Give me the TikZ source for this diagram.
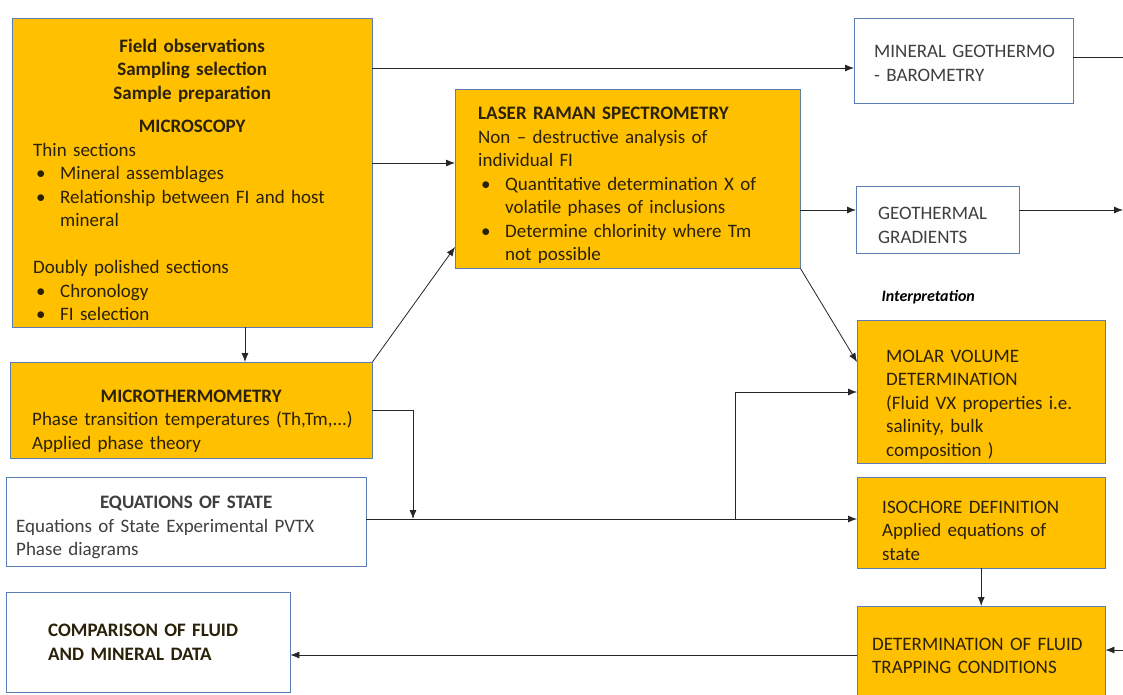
\documentclass[tikz,border=0pt]{standalone}
\usepackage{fontspec}
\setmainfont{Carlito}
\usetikzlibrary{arrows.meta}
\definecolor{boxgold}{HTML}{FFC000}
\definecolor{boxline}{HTML}{5A7DB5}
\definecolor{goldtext}{HTML}{2A2108}
\definecolor{greytext}{HTML}{3F3F3F}
\newcommand{\bitem}[1]{\par\hangindent=27pt\hangafter=1\noindent\makebox[27pt][l]{\hspace{3pt}\textbullet}#1\par}

\begin{document}
\begin{tikzpicture}[x=1pt,y=-1pt]
    \tikzstyle{txtsize}=[font=\fontsize{19}{23.5}\selectfont]
    \tikzstyle{topstrut}=[execute at begin node={\rule{0pt}{#1}}]
    \tikzstyle{gbox}=[draw=boxline,fill=boxgold,text=goldtext,txtsize,align=left,anchor=north west,inner ysep=4pt]
    \tikzstyle{wbox}=[draw=boxline,fill=white,text=greytext,txtsize,align=left,anchor=north west,inner ysep=4pt]
    \tikzstyle{arr}=[-{Latex[length=9pt,width=7pt]},black!85,line width=0.8pt]
    \useasboundingbox (0,0) rectangle (1123,694);

    % left column
    \node[gbox,minimum width=360pt,minimum height=309pt,text width=318pt,inner xsep=21pt,topstrut=28pt] (micro) at (12,18) {%
      {\centering\bfseries Field observations\\Sampling selection\\Sample preparation\\[10pt]MICROSCOPY\par}
      \noindent Thin sections
      \bitem{Mineral assemblages}
      \bitem{Relationship between FI and host\newline mineral}
      \vspace{23.5pt}\noindent Doubly polished sections
      \bitem{Chronology}
      \bitem{FI selection}};
    \node[gbox,minimum width=362pt,minimum height=96pt,text width=318pt,inner xsep=22pt,topstrut=34pt] (thermo) at (10,362) {%
      {\centering\bfseries MICROTHERMOMETRY\par}
      \noindent\mbox{Phase transition temperatures (Th,Tm,...)}\\Applied phase theory};
    \node[wbox,minimum width=360pt,minimum height=89pt,text width=340pt,inner xsep=10pt,topstrut=24pt] (eos) at (6,477) {%
      {\centering\bfseries EQUATIONS OF STATE\par}
      \noindent Equations of State Experimental PVTX\\Phase diagrams};
    \node[wbox,minimum width=284pt,minimum height=100pt,text width=200pt,inner xsep=42pt,font=\fontsize{19}{23.5}\selectfont\bfseries,text=goldtext] (comp) at (6,592) {COMPARISON OF FLUID\\AND MINERAL DATA};

    % middle
    \node[gbox,minimum width=345pt,minimum height=179pt,text width=299pt,inner xsep=23pt,topstrut=26pt] (raman) at (455,89) {%
      \textbf{LASER RAMAN SPECTROMETRY}\\
      Non – destructive analysis of\\individual FI
      \bitem{Quantitative determination X of\newline volatile phases of inclusions}
      \bitem{Determine chlorinity where Tm\newline not possible}};

    % right column
    \node[wbox,minimum width=219pt,minimum height=85pt,text width=179pt,inner xsep=20pt,topstrut=18pt] (geo) at (854,18) {MINERAL~GEOTHERMO\\- BAROMETRY};
    \node[wbox,minimum width=163pt,minimum height=67pt,text width=119pt,inner xsep=22pt,topstrut=24pt] (grad) at (856,186) {GEOTHERMAL\\GRADIENTS};
    \node[font=\fontsize{16}{19}\selectfont\bfseries\itshape,anchor=west] (interp) at (878,297) {Interpretation};
    \node[gbox,minimum width=248pt,minimum height=143pt,text width=190pt,inner xsep=29pt,topstrut=38pt] (molar) at (857,320) {MOLAR VOLUME\\DETERMINATION\\(Fluid VX properties i.e.\\salinity, bulk\\composition )};
    \node[gbox,minimum width=248pt,minimum height=91pt,text width=198pt,inner xsep=25pt,topstrut=28pt] (iso) at (857,477) {ISOCHORE DEFINITION\\Applied equations of\\state};
    \node[gbox,minimum width=248pt,minimum height=90pt,text width=218pt,inner xsep=15pt,topstrut=22pt] (trap) at (857,606) {DETERMINATION~OF~FLUID\\TRAPPING CONDITIONS};

    \coordinate (rtop) at (1123,57);
    \coordinate (rmid) at (1123,210);
    \coordinate (rbot) at (1123,650);
    \coordinate (drop) at (413,519);
    \coordinate (rise) at (735,519);

    % connectors
    \draw[arr] (micro.east |- 0,68) -- (geo.west |- 0,68);
    \draw[arr] (micro.east |- 0,163) -- (raman.west |- 0,163);
    \draw[arr] (micro.south -| 245,0) -- (thermo.north -| 245,0);
    \draw[arr] (thermo.north east) -- (raman.west |- 0,247);
    \draw[arr] (thermo.east |- 0,410) -| (drop);
    \draw[arr] (eos.east |- 0,519) -- (iso.west |- 0,519);
    \draw[arr] (rise) |- (molar.west |- 0,392);
    \draw[arr] (raman.east |- 0,210) -- (grad.west |- 0,210);
    \draw[arr] (raman.south east) -- (molar.west |- 0,362);
    \draw[black!85,line width=0.8pt] (geo.east |- rtop) -- (rtop);
    \draw[arr] (grad.east |- rmid) -- (rmid);
    \draw[arr] (rbot) -- (trap.east |- rbot);
    \draw[arr] (iso.south) -- (trap.north);
    \draw[arr] (trap.west |- 0,655) -- (comp.east |- 0,655);
\end{tikzpicture}
\end{document}
